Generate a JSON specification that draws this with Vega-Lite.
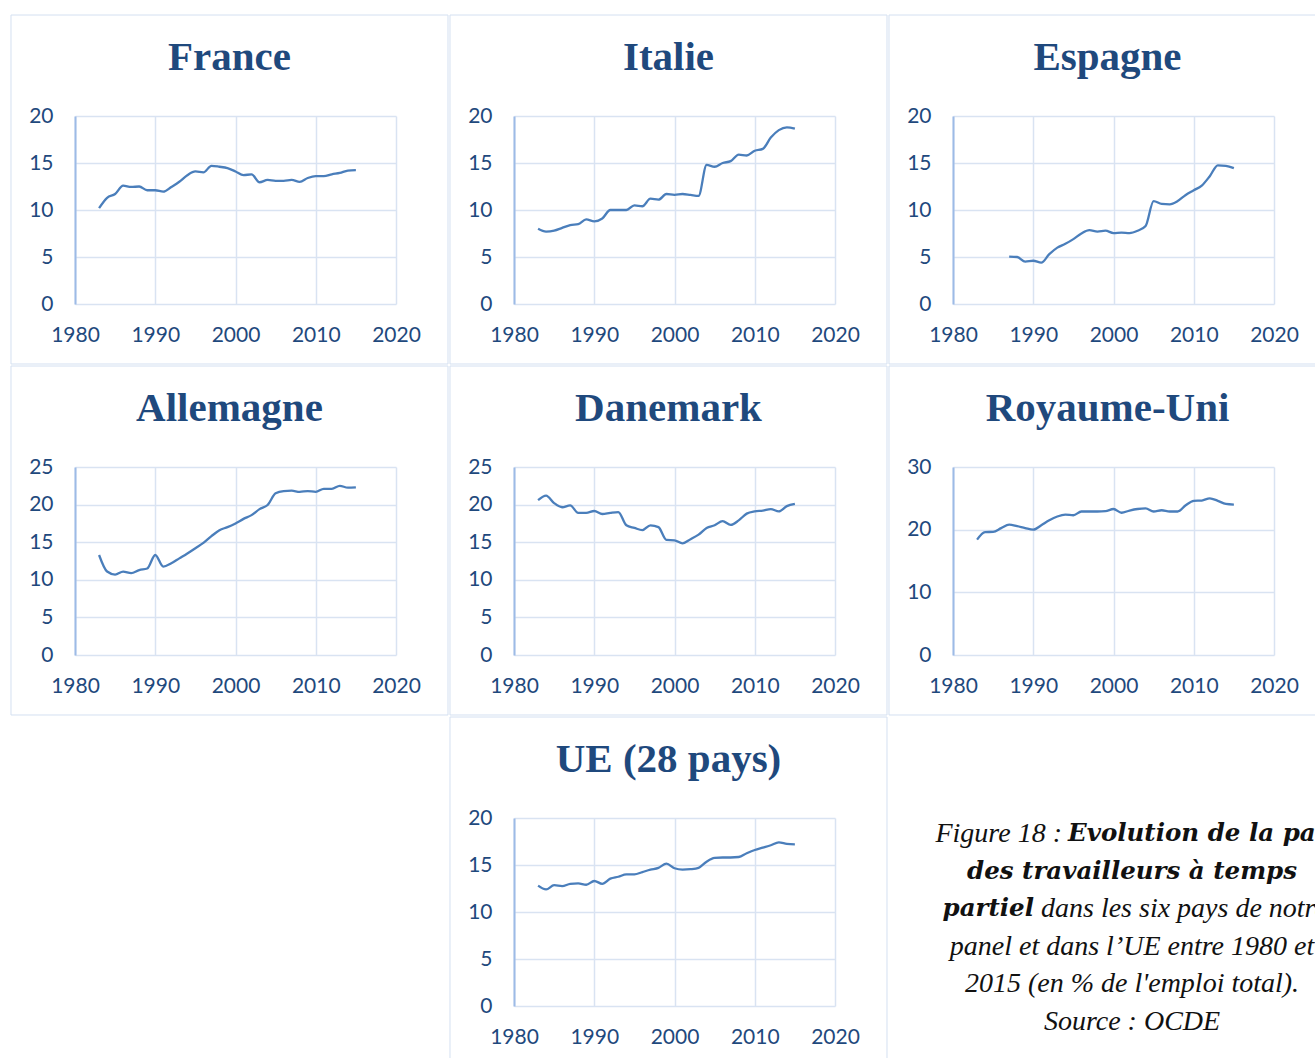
{
"$schema": "https://vega.github.io/schema/vega-lite/v6.json",
"background": "white",
"padding": {"left": 10, "top": 14, "right": 0, "bottom": 0},
"datasets": {
"serie": [
{"pays":"France","annee":1983,"valeur":10.2},{"pays":"France","annee":1984,"valeur":11.3},{"pays":"France","annee":1985,"valeur":11.7},{"pays":"France","annee":1986,"valeur":12.6},{"pays":"France","annee":1987,"valeur":12.45},{"pays":"France","annee":1988,"valeur":12.5},{"pays":"France","annee":1989,"valeur":12.1},{"pays":"France","annee":1990,"valeur":12.1},{"pays":"France","annee":1991,"valeur":11.95},{"pays":"France","annee":1992,"valeur":12.45},{"pays":"France","annee":1993,"valeur":13.0},{"pays":"France","annee":1994,"valeur":13.7},{"pays":"France","annee":1995,"valeur":14.1},{"pays":"France","annee":1996,"valeur":14.0},{"pays":"France","annee":1997,"valeur":14.7},{"pays":"France","annee":1998,"valeur":14.6},{"pays":"France","annee":1999,"valeur":14.45},{"pays":"France","annee":2000,"valeur":14.1},{"pays":"France","annee":2001,"valeur":13.7},{"pays":"France","annee":2002,"valeur":13.8},{"pays":"France","annee":2003,"valeur":12.95},{"pays":"France","annee":2004,"valeur":13.2},{"pays":"France","annee":2005,"valeur":13.1},{"pays":"France","annee":2006,"valeur":13.1},{"pays":"France","annee":2007,"valeur":13.2},{"pays":"France","annee":2008,"valeur":13.0},{"pays":"France","annee":2009,"valeur":13.4},{"pays":"France","annee":2010,"valeur":13.6},{"pays":"France","annee":2011,"valeur":13.6},{"pays":"France","annee":2012,"valeur":13.8},{"pays":"France","annee":2013,"valeur":13.95},{"pays":"France","annee":2014,"valeur":14.2},{"pays":"France","annee":2015,"valeur":14.25},
{"pays":"Italie","annee":1983,"valeur":8.0},{"pays":"Italie","annee":1984,"valeur":7.7},{"pays":"Italie","annee":1985,"valeur":7.8},{"pays":"Italie","annee":1986,"valeur":8.1},{"pays":"Italie","annee":1987,"valeur":8.4},{"pays":"Italie","annee":1988,"valeur":8.5},{"pays":"Italie","annee":1989,"valeur":9.0},{"pays":"Italie","annee":1990,"valeur":8.8},{"pays":"Italie","annee":1991,"valeur":9.1},{"pays":"Italie","annee":1992,"valeur":10.0},{"pays":"Italie","annee":1993,"valeur":10.0},{"pays":"Italie","annee":1994,"valeur":10.0},{"pays":"Italie","annee":1995,"valeur":10.5},{"pays":"Italie","annee":1996,"valeur":10.4},{"pays":"Italie","annee":1997,"valeur":11.2},{"pays":"Italie","annee":1998,"valeur":11.1},{"pays":"Italie","annee":1999,"valeur":11.7},{"pays":"Italie","annee":2000,"valeur":11.6},{"pays":"Italie","annee":2001,"valeur":11.7},{"pays":"Italie","annee":2002,"valeur":11.6},{"pays":"Italie","annee":2003,"valeur":11.5},{"pays":"Italie","annee":2004,"valeur":14.8},{"pays":"Italie","annee":2005,"valeur":14.6},{"pays":"Italie","annee":2006,"valeur":15.0},{"pays":"Italie","annee":2007,"valeur":15.2},{"pays":"Italie","annee":2008,"valeur":15.9},{"pays":"Italie","annee":2009,"valeur":15.8},{"pays":"Italie","annee":2010,"valeur":16.3},{"pays":"Italie","annee":2011,"valeur":16.5},{"pays":"Italie","annee":2012,"valeur":17.7},{"pays":"Italie","annee":2013,"valeur":18.5},{"pays":"Italie","annee":2014,"valeur":18.8},{"pays":"Italie","annee":2015,"valeur":18.65},
{"pays":"Espagne","annee":1987,"valeur":5.05},{"pays":"Espagne","annee":1988,"valeur":5.0},{"pays":"Espagne","annee":1989,"valeur":4.5},{"pays":"Espagne","annee":1990,"valeur":4.6},{"pays":"Espagne","annee":1991,"valeur":4.4},{"pays":"Espagne","annee":1992,"valeur":5.3},{"pays":"Espagne","annee":1993,"valeur":6.0},{"pays":"Espagne","annee":1994,"valeur":6.4},{"pays":"Espagne","annee":1995,"valeur":6.9},{"pays":"Espagne","annee":1996,"valeur":7.5},{"pays":"Espagne","annee":1997,"valeur":7.85},{"pays":"Espagne","annee":1998,"valeur":7.7},{"pays":"Espagne","annee":1999,"valeur":7.8},{"pays":"Espagne","annee":2000,"valeur":7.55},{"pays":"Espagne","annee":2001,"valeur":7.6},{"pays":"Espagne","annee":2002,"valeur":7.55},{"pays":"Espagne","annee":2003,"valeur":7.8},{"pays":"Espagne","annee":2004,"valeur":8.3},{"pays":"Espagne","annee":2005,"valeur":10.95},{"pays":"Espagne","annee":2006,"valeur":10.65},{"pays":"Espagne","annee":2007,"valeur":10.6},{"pays":"Espagne","annee":2008,"valeur":10.95},{"pays":"Espagne","annee":2009,"valeur":11.6},{"pays":"Espagne","annee":2010,"valeur":12.1},{"pays":"Espagne","annee":2011,"valeur":12.6},{"pays":"Espagne","annee":2012,"valeur":13.6},{"pays":"Espagne","annee":2013,"valeur":14.75},{"pays":"Espagne","annee":2014,"valeur":14.7},{"pays":"Espagne","annee":2015,"valeur":14.45},
{"pays":"Allemagne","annee":1983,"valeur":13.3},{"pays":"Allemagne","annee":1984,"valeur":11.1},{"pays":"Allemagne","annee":1985,"valeur":10.7},{"pays":"Allemagne","annee":1986,"valeur":11.1},{"pays":"Allemagne","annee":1987,"valeur":10.9},{"pays":"Allemagne","annee":1988,"valeur":11.3},{"pays":"Allemagne","annee":1989,"valeur":11.5},{"pays":"Allemagne","annee":1990,"valeur":13.3},{"pays":"Allemagne","annee":1991,"valeur":11.75},{"pays":"Allemagne","annee":1992,"valeur":12.2},{"pays":"Allemagne","annee":1993,"valeur":12.85},{"pays":"Allemagne","annee":1994,"valeur":13.5},{"pays":"Allemagne","annee":1995,"valeur":14.2},{"pays":"Allemagne","annee":1996,"valeur":14.9},{"pays":"Allemagne","annee":1997,"valeur":15.8},{"pays":"Allemagne","annee":1998,"valeur":16.6},{"pays":"Allemagne","annee":1999,"valeur":17.0},{"pays":"Allemagne","annee":2000,"valeur":17.5},{"pays":"Allemagne","annee":2001,"valeur":18.1},{"pays":"Allemagne","annee":2002,"valeur":18.6},{"pays":"Allemagne","annee":2003,"valeur":19.4},{"pays":"Allemagne","annee":2004,"valeur":19.95},{"pays":"Allemagne","annee":2005,"valeur":21.5},{"pays":"Allemagne","annee":2006,"valeur":21.8},{"pays":"Allemagne","annee":2007,"valeur":21.85},{"pays":"Allemagne","annee":2008,"valeur":21.7},{"pays":"Allemagne","annee":2009,"valeur":21.8},{"pays":"Allemagne","annee":2010,"valeur":21.7},{"pays":"Allemagne","annee":2011,"valeur":22.1},{"pays":"Allemagne","annee":2012,"valeur":22.1},{"pays":"Allemagne","annee":2013,"valeur":22.5},{"pays":"Allemagne","annee":2014,"valeur":22.25},{"pays":"Allemagne","annee":2015,"valeur":22.3},
{"pays":"Danemark","annee":1983,"valeur":20.6},{"pays":"Danemark","annee":1984,"valeur":21.2},{"pays":"Danemark","annee":1985,"valeur":20.2},{"pays":"Danemark","annee":1986,"valeur":19.65},{"pays":"Danemark","annee":1987,"valeur":19.9},{"pays":"Danemark","annee":1988,"valeur":18.9},{"pays":"Danemark","annee":1989,"valeur":18.9},{"pays":"Danemark","annee":1990,"valeur":19.15},{"pays":"Danemark","annee":1991,"valeur":18.75},{"pays":"Danemark","annee":1992,"valeur":18.9},{"pays":"Danemark","annee":1993,"valeur":19.0},{"pays":"Danemark","annee":1994,"valeur":17.25},{"pays":"Danemark","annee":1995,"valeur":16.9},{"pays":"Danemark","annee":1996,"valeur":16.6},{"pays":"Danemark","annee":1997,"valeur":17.25},{"pays":"Danemark","annee":1998,"valeur":17.0},{"pays":"Danemark","annee":1999,"valeur":15.3},{"pays":"Danemark","annee":2000,"valeur":15.25},{"pays":"Danemark","annee":2001,"valeur":14.85},{"pays":"Danemark","annee":2002,"valeur":15.4},{"pays":"Danemark","annee":2003,"valeur":16.0},{"pays":"Danemark","annee":2004,"valeur":16.9},{"pays":"Danemark","annee":2005,"valeur":17.25},{"pays":"Danemark","annee":2006,"valeur":17.8},{"pays":"Danemark","annee":2007,"valeur":17.3},{"pays":"Danemark","annee":2008,"valeur":17.9},{"pays":"Danemark","annee":2009,"valeur":18.8},{"pays":"Danemark","annee":2010,"valeur":19.1},{"pays":"Danemark","annee":2011,"valeur":19.2},{"pays":"Danemark","annee":2012,"valeur":19.4},{"pays":"Danemark","annee":2013,"valeur":19.1},{"pays":"Danemark","annee":2014,"valeur":19.8},{"pays":"Danemark","annee":2015,"valeur":20.1},
{"pays":"Royaume-Uni","annee":1983,"valeur":18.4},{"pays":"Royaume-Uni","annee":1984,"valeur":19.6},{"pays":"Royaume-Uni","annee":1985,"valeur":19.65},{"pays":"Royaume-Uni","annee":1986,"valeur":20.25},{"pays":"Royaume-Uni","annee":1987,"valeur":20.8},{"pays":"Royaume-Uni","annee":1988,"valeur":20.55},{"pays":"Royaume-Uni","annee":1989,"valeur":20.25},{"pays":"Royaume-Uni","annee":1990,"valeur":20.0},{"pays":"Royaume-Uni","annee":1991,"valeur":20.7},{"pays":"Royaume-Uni","annee":1992,"valeur":21.5},{"pays":"Royaume-Uni","annee":1993,"valeur":22.1},{"pays":"Royaume-Uni","annee":1994,"valeur":22.4},{"pays":"Royaume-Uni","annee":1995,"valeur":22.3},{"pays":"Royaume-Uni","annee":1996,"valeur":22.9},{"pays":"Royaume-Uni","annee":1997,"valeur":22.9},{"pays":"Royaume-Uni","annee":1998,"valeur":22.9},{"pays":"Royaume-Uni","annee":1999,"valeur":22.95},{"pays":"Royaume-Uni","annee":2000,"valeur":23.3},{"pays":"Royaume-Uni","annee":2001,"valeur":22.7},{"pays":"Royaume-Uni","annee":2002,"valeur":23.05},{"pays":"Royaume-Uni","annee":2003,"valeur":23.3},{"pays":"Royaume-Uni","annee":2004,"valeur":23.4},{"pays":"Royaume-Uni","annee":2005,"valeur":22.9},{"pays":"Royaume-Uni","annee":2006,"valeur":23.1},{"pays":"Royaume-Uni","annee":2007,"valeur":22.9},{"pays":"Royaume-Uni","annee":2008,"valeur":22.9},{"pays":"Royaume-Uni","annee":2009,"valeur":23.9},{"pays":"Royaume-Uni","annee":2010,"valeur":24.6},{"pays":"Royaume-Uni","annee":2011,"valeur":24.65},{"pays":"Royaume-Uni","annee":2012,"valeur":25.0},{"pays":"Royaume-Uni","annee":2013,"valeur":24.6},{"pays":"Royaume-Uni","annee":2014,"valeur":24.1},{"pays":"Royaume-Uni","annee":2015,"valeur":24.0},
{"pays":"UE","annee":1983,"valeur":12.8},{"pays":"UE","annee":1984,"valeur":12.4},{"pays":"UE","annee":1985,"valeur":12.85},{"pays":"UE","annee":1986,"valeur":12.75},{"pays":"UE","annee":1987,"valeur":13.0},{"pays":"UE","annee":1988,"valeur":13.05},{"pays":"UE","annee":1989,"valeur":12.9},{"pays":"UE","annee":1990,"valeur":13.3},{"pays":"UE","annee":1991,"valeur":13.0},{"pays":"UE","annee":1992,"valeur":13.55},{"pays":"UE","annee":1993,"valeur":13.75},{"pays":"UE","annee":1994,"valeur":14.0},{"pays":"UE","annee":1995,"valeur":14.0},{"pays":"UE","annee":1996,"valeur":14.25},{"pays":"UE","annee":1997,"valeur":14.5},{"pays":"UE","annee":1998,"valeur":14.7},{"pays":"UE","annee":1999,"valeur":15.15},{"pays":"UE","annee":2000,"valeur":14.65},{"pays":"UE","annee":2001,"valeur":14.5},{"pays":"UE","annee":2002,"valeur":14.55},{"pays":"UE","annee":2003,"valeur":14.7},{"pays":"UE","annee":2004,"valeur":15.35},{"pays":"UE","annee":2005,"valeur":15.75},{"pays":"UE","annee":2006,"valeur":15.8},{"pays":"UE","annee":2007,"valeur":15.8},{"pays":"UE","annee":2008,"valeur":15.85},{"pays":"UE","annee":2009,"valeur":16.25},{"pays":"UE","annee":2010,"valeur":16.6},{"pays":"UE","annee":2011,"valeur":16.85},{"pays":"UE","annee":2012,"valeur":17.1},{"pays":"UE","annee":2013,"valeur":17.4},{"pays":"UE","annee":2014,"valeur":17.25},{"pays":"UE","annee":2015,"valeur":17.2}
]
},
"columns": 3,
"spacing": 0,
"align": "each",
"concat": [
 {"title": "France", "width": 321, "height": 188, "resolve": {"scale": {"x": "independent", "y": "independent"}},
  "layer": [
   {"data": {"name": "serie"}, "transform": [{"filter": "datum.pays === 'France'"}],
    "mark": {"type": "line", "interpolate": "monotone", "color": "#4a7ebb", "strokeWidth": 2.3},
    "encoding": {"x": {"field": "annee", "type": "quantitative", "title": null, "scale": {"domain": [1980, 2020], "nice": false, "zero": false}, "axis": {"orient": "bottom", "values": [1980, 1990, 2000, 2010, 2020], "format": "d"}},
                 "y": {"field": "valeur", "type": "quantitative", "title": null, "scale": {"domain": [0, 20], "nice": false}, "axis": {"orient": "left", "values": [0, 5, 10, 15, 20]}}}},
   {"data": {"values": [{}]}, "mark": {"type": "rect", "filled": false, "stroke": "#d4e0f1", "strokeWidth": 1, "clip": false},
    "encoding": {"x": {"datum": -0.19938, "type": "quantitative", "scale": {"domain": [0, 1], "nice": false, "zero": false}, "axis": null}, "x2": {"datum": 1.16199},
                 "y": {"datum": -0.3191, "type": "quantitative", "scale": {"domain": [0, 1], "nice": false, "zero": false}, "axis": null}, "y2": {"datum": 1.5372}}}
  ]},
 {"title": "Italie", "width": 321, "height": 188, "resolve": {"scale": {"x": "independent", "y": "independent"}},
  "layer": [
   {"data": {"name": "serie"}, "transform": [{"filter": "datum.pays === 'Italie'"}],
    "mark": {"type": "line", "interpolate": "monotone", "color": "#4a7ebb", "strokeWidth": 2.3},
    "encoding": {"x": {"field": "annee", "type": "quantitative", "title": null, "scale": {"domain": [1980, 2020], "nice": false, "zero": false}, "axis": {"orient": "bottom", "values": [1980, 1990, 2000, 2010, 2020], "format": "d"}},
                 "y": {"field": "valeur", "type": "quantitative", "title": null, "scale": {"domain": [0, 20], "nice": false}, "axis": {"orient": "left", "values": [0, 5, 10, 15, 20]}}}},
   {"data": {"values": [{}]}, "mark": {"type": "rect", "filled": false, "stroke": "#d4e0f1", "strokeWidth": 1, "clip": false},
    "encoding": {"x": {"datum": -0.19938, "type": "quantitative", "scale": {"domain": [0, 1], "nice": false, "zero": false}, "axis": null}, "x2": {"datum": 1.16199},
                 "y": {"datum": -0.3191, "type": "quantitative", "scale": {"domain": [0, 1], "nice": false, "zero": false}, "axis": null}, "y2": {"datum": 1.5372}}}
  ]},
 {"title": "Espagne", "width": 321, "height": 188, "resolve": {"scale": {"x": "independent", "y": "independent"}},
  "layer": [
   {"data": {"name": "serie"}, "transform": [{"filter": "datum.pays === 'Espagne'"}],
    "mark": {"type": "line", "interpolate": "monotone", "color": "#4a7ebb", "strokeWidth": 2.3},
    "encoding": {"x": {"field": "annee", "type": "quantitative", "title": null, "scale": {"domain": [1980, 2020], "nice": false, "zero": false}, "axis": {"orient": "bottom", "values": [1980, 1990, 2000, 2010, 2020], "format": "d"}},
                 "y": {"field": "valeur", "type": "quantitative", "title": null, "scale": {"domain": [0, 20], "nice": false}, "axis": {"orient": "left", "values": [0, 5, 10, 15, 20]}}}},
   {"data": {"values": [{}]}, "mark": {"type": "rect", "filled": false, "stroke": "#d4e0f1", "strokeWidth": 1, "clip": false},
    "encoding": {"x": {"datum": -0.19938, "type": "quantitative", "scale": {"domain": [0, 1], "nice": false, "zero": false}, "axis": null}, "x2": {"datum": 1.16199},
                 "y": {"datum": -0.3191, "type": "quantitative", "scale": {"domain": [0, 1], "nice": false, "zero": false}, "axis": null}, "y2": {"datum": 1.5372}}}
  ]},
 {"title": "Allemagne", "width": 321, "height": 188, "resolve": {"scale": {"x": "independent", "y": "independent"}},
  "layer": [
   {"data": {"name": "serie"}, "transform": [{"filter": "datum.pays === 'Allemagne'"}],
    "mark": {"type": "line", "interpolate": "monotone", "color": "#4a7ebb", "strokeWidth": 2.3},
    "encoding": {"x": {"field": "annee", "type": "quantitative", "title": null, "scale": {"domain": [1980, 2020], "nice": false, "zero": false}, "axis": {"orient": "bottom", "values": [1980, 1990, 2000, 2010, 2020], "format": "d"}},
                 "y": {"field": "valeur", "type": "quantitative", "title": null, "scale": {"domain": [0, 25], "nice": false}, "axis": {"orient": "left", "values": [0, 5, 10, 15, 20, 25]}}}},
   {"data": {"values": [{}]}, "mark": {"type": "rect", "filled": false, "stroke": "#d4e0f1", "strokeWidth": 1, "clip": false},
    "encoding": {"x": {"datum": -0.19938, "type": "quantitative", "scale": {"domain": [0, 1], "nice": false, "zero": false}, "axis": null}, "x2": {"datum": 1.16199},
                 "y": {"datum": -0.3191, "type": "quantitative", "scale": {"domain": [0, 1], "nice": false, "zero": false}, "axis": null}, "y2": {"datum": 1.5372}}}
  ]},
 {"title": "Danemark", "width": 321, "height": 188, "resolve": {"scale": {"x": "independent", "y": "independent"}},
  "layer": [
   {"data": {"name": "serie"}, "transform": [{"filter": "datum.pays === 'Danemark'"}],
    "mark": {"type": "line", "interpolate": "monotone", "color": "#4a7ebb", "strokeWidth": 2.3},
    "encoding": {"x": {"field": "annee", "type": "quantitative", "title": null, "scale": {"domain": [1980, 2020], "nice": false, "zero": false}, "axis": {"orient": "bottom", "values": [1980, 1990, 2000, 2010, 2020], "format": "d"}},
                 "y": {"field": "valeur", "type": "quantitative", "title": null, "scale": {"domain": [0, 25], "nice": false}, "axis": {"orient": "left", "values": [0, 5, 10, 15, 20, 25]}}}},
   {"data": {"values": [{}]}, "mark": {"type": "rect", "filled": false, "stroke": "#d4e0f1", "strokeWidth": 1, "clip": false},
    "encoding": {"x": {"datum": -0.19938, "type": "quantitative", "scale": {"domain": [0, 1], "nice": false, "zero": false}, "axis": null}, "x2": {"datum": 1.16199},
                 "y": {"datum": -0.3191, "type": "quantitative", "scale": {"domain": [0, 1], "nice": false, "zero": false}, "axis": null}, "y2": {"datum": 1.5372}}}
  ]},
 {"title": "Royaume-Uni", "width": 321, "height": 188, "resolve": {"scale": {"x": "independent", "y": "independent"}},
  "layer": [
   {"data": {"name": "serie"}, "transform": [{"filter": "datum.pays === 'Royaume-Uni'"}],
    "mark": {"type": "line", "interpolate": "monotone", "color": "#4a7ebb", "strokeWidth": 2.3},
    "encoding": {"x": {"field": "annee", "type": "quantitative", "title": null, "scale": {"domain": [1980, 2020], "nice": false, "zero": false}, "axis": {"orient": "bottom", "values": [1980, 1990, 2000, 2010, 2020], "format": "d"}},
                 "y": {"field": "valeur", "type": "quantitative", "title": null, "scale": {"domain": [0, 30], "nice": false}, "axis": {"orient": "left", "values": [0, 10, 20, 30]}}}},
   {"data": {"values": [{}]}, "mark": {"type": "rect", "filled": false, "stroke": "#d4e0f1", "strokeWidth": 1, "clip": false},
    "encoding": {"x": {"datum": -0.19938, "type": "quantitative", "scale": {"domain": [0, 1], "nice": false, "zero": false}, "axis": null}, "x2": {"datum": 1.16199},
                 "y": {"datum": -0.3191, "type": "quantitative", "scale": {"domain": [0, 1], "nice": false, "zero": false}, "axis": null}, "y2": {"datum": 1.5372}}}
  ]},
 {"width": 1, "height": 1, "data": {"values": [{}]}, "mark": {"type": "text"}, "encoding": {"text": {"value": ""}}},
 {"title": "UE (28 pays)", "width": 321, "height": 188, "resolve": {"scale": {"x": "independent", "y": "independent"}},
  "layer": [
   {"data": {"name": "serie"}, "transform": [{"filter": "datum.pays === 'UE'"}],
    "mark": {"type": "line", "interpolate": "monotone", "color": "#4a7ebb", "strokeWidth": 2.3},
    "encoding": {"x": {"field": "annee", "type": "quantitative", "title": null, "scale": {"domain": [1980, 2020], "nice": false, "zero": false}, "axis": {"orient": "bottom", "values": [1980, 1990, 2000, 2010, 2020], "format": "d"}},
                 "y": {"field": "valeur", "type": "quantitative", "title": null, "scale": {"domain": [0, 20], "nice": false}, "axis": {"orient": "left", "values": [0, 5, 10, 15, 20]}}}},
   {"data": {"values": [{}]}, "mark": {"type": "rect", "filled": false, "stroke": "#d4e0f1", "strokeWidth": 1, "clip": false},
    "encoding": {"x": {"datum": -0.19938, "type": "quantitative", "scale": {"domain": [0, 1], "nice": false, "zero": false}, "axis": null}, "x2": {"datum": 1.16199},
                 "y": {"datum": -0.3191, "type": "quantitative", "scale": {"domain": [0, 1], "nice": false, "zero": false}, "axis": null}, "y2": {"datum": 1.5372}}}
  ]},
 {"width": 300, "height": 230,
  "layer": [
   {"data": {"values": [{"ligne": 4, "texte": "panel et dans l’UE entre 1980 et"}, {"ligne": 5, "texte": "2015 (en % de l'emploi total)."}, {"ligne": 6, "texte": "Source : OCDE"}]},
    "mark": {"type": "text", "font": "Liberation Serif", "fontStyle": "italic", "fontSize": 28, "align": "center", "baseline": "middle", "color": "#111111"},
    "encoding": {"x": {"datum": 0.5967, "type": "quantitative", "scale": {"domain": [0, 1], "nice": false, "zero": false}, "axis": null},
                 "y": {"field": "ligne", "type": "quantitative", "scale": {"domain": [0.5745, 6.6915], "nice": false, "zero": false, "reverse": true}, "axis": null},
                 "text": {"field": "texte"}}},
   {"data": {"values": [{"ligne": 2, "texte": "des  travailleurs à temps"}]},
    "mark": {"type": "text", "font": "DejaVu Serif", "fontStyle": "italic", "fontWeight": "bold", "fontSize": 24.5, "align": "center", "baseline": "middle", "color": "#111111"},
    "encoding": {"x": {"datum": 0.5967, "type": "quantitative"}, "y": {"field": "ligne", "type": "quantitative"}, "text": {"field": "texte"}}},
   {"data": {"values": [{"ligne": 1, "texte": "Figure 18 :"}]},
    "mark": {"type": "text", "font": "Liberation Serif", "fontStyle": "italic", "fontSize": 28, "align": "right", "baseline": "middle", "color": "#111111"},
    "encoding": {"x": {"datum": 0.3633, "type": "quantitative"}, "y": {"field": "ligne", "type": "quantitative"}, "text": {"field": "texte"}}},
   {"data": {"values": [{"ligne": 1, "texte": "Evolution de la part"}]},
    "mark": {"type": "text", "font": "DejaVu Serif", "fontStyle": "italic", "fontWeight": "bold", "fontSize": 24.5, "align": "left", "baseline": "middle", "color": "#111111"},
    "encoding": {"x": {"datum": 0.3833, "type": "quantitative"}, "y": {"field": "ligne", "type": "quantitative"}, "text": {"field": "texte"}}},
   {"data": {"values": [{"ligne": 3, "texte": "partiel"}]},
    "mark": {"type": "text", "font": "DejaVu Serif", "fontStyle": "italic", "fontWeight": "bold", "fontSize": 24.5, "align": "right", "baseline": "middle", "color": "#111111"},
    "encoding": {"x": {"datum": 0.27, "type": "quantitative"}, "y": {"field": "ligne", "type": "quantitative"}, "text": {"field": "texte"}}},
   {"data": {"values": [{"ligne": 3, "texte": "dans les six pays de notre"}]},
    "mark": {"type": "text", "font": "Liberation Serif", "fontStyle": "italic", "fontSize": 28, "align": "left", "baseline": "middle", "color": "#111111"},
    "encoding": {"x": {"datum": 0.2933, "type": "quantitative"}, "y": {"field": "ligne", "type": "quantitative"}, "text": {"field": "texte"}}}
  ]}
],
"config": {
 "view": {"stroke": null},
 "concat": {"spacing": 0},
 "axis": {"labelFont": "Lato", "labelFontSize": 21, "labelColor": "#1f497d", "ticks": false, "grid": true, "gridColor": "#d9e3f2", "gridWidth": 1.5, "domain": false, "labelFlush": false, "labelOverlap": false, "labelBound": false},
 "axisY": {"domain": true, "domainColor": "#9dbbe6", "domainWidth": 2, "labelPadding": 22},
 "axisX": {"labelPadding": 20},
 "title": {"font": "Liberation Serif", "fontSize": 41, "fontWeight": "bold", "color": "#1f497d", "offset": -64, "anchor": "middle", "frame": "bounds"}
}
}
